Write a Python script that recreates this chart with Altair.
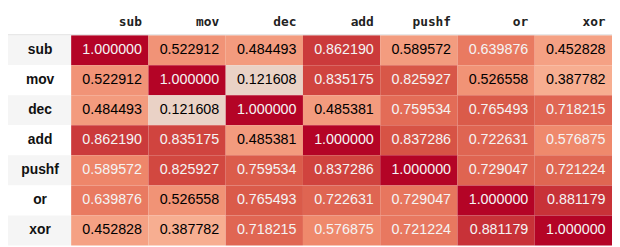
import altair as alt
import pandas as pd

names = ["sub", "mov", "dec", "add", "pushf", "or", "xor"]
row_sub = [1.000000, 0.522912, 0.484493, 0.862190, 0.589572, 0.639876, 0.452828]
row_mov = [0.522912, 1.000000, 0.121608, 0.835175, 0.825927, 0.526558, 0.387782]
row_dec = [0.484493, 0.121608, 1.000000, 0.485381, 0.759534, 0.765493, 0.718215]
row_add = [0.862190, 0.835175, 0.485381, 1.000000, 0.837286, 0.722631, 0.576875]
row_pushf = [0.589572, 0.825927, 0.759534, 0.837286, 1.000000, 0.729047, 0.721224]
row_or = [0.639876, 0.526558, 0.765493, 0.722631, 0.729047, 1.000000, 0.881179]
row_xor = [0.452828, 0.387782, 0.718215, 0.576875, 0.721224, 0.881179, 1.000000]
# low end of each column's colour gradient (column-wise gradient)
col_floor = [-1.0, -1.0, -1.0, -1.0, -0.58, -1.0, -1.0]

matrix = [row_sub, row_mov, row_dec, row_add, row_pushf, row_or, row_xor]

records = []
for i, rname in enumerate(names):
    for j, cname in enumerate(names):
        records.append({"row": rname, "col": cname, "ri": i,
                        "value": matrix[i][j], "floor": col_floor[j]})
df = pd.DataFrame(records)

# ---- layout ----
LABEL_W = 64
HEAD_H = 26
W = 548
H = 213
colw = W / 7

coolwarm_dom = [0.5, 0.6, 0.7, 0.8, 0.9, 1.0]
coolwarm_rng = ["#dddcdc", "#f2cbb7", "#f7ac8e", "#ee8468", "#d65244", "#b40426"]

base = alt.Chart(df).transform_calculate(
    t="(datum.value - datum.floor) / (1 - datum.floor)"
).encode(
    x=alt.X("col:N", sort=names,
            scale=alt.Scale(paddingInner=0, paddingOuter=0),
            axis=alt.Axis(orient="top", title=None, ticks=False, tickSize=0,
                          domain=False, labelAngle=0, labelAlign="right",
                          labelOffset=colw / 2 - 6.5, labelPadding=10,
                          labelBaseline="alphabetic",
                          labelFont="DejaVu Sans Mono", labelFontSize=13,
                          labelFontWeight="bold", labelColor="#222222",
                          labelOverlap=False)),
    y=alt.Y("row:N", sort=names,
            scale=alt.Scale(paddingInner=0, paddingOuter=0),
            axis=alt.Axis(orient="left", title=None, ticks=False, tickSize=0,
                          domain=False, labelAlign="center", labelPadding=LABEL_W / 2,
                          labelBaseline="middle", labelFont="Liberation Sans",
                          labelFontSize=14, labelFontWeight="bold",
                          labelColor="#111111", labelOverlap=False)),
)

stripes = base.transform_filter(alt.datum.col == "sub").mark_rect().encode(
    x=alt.value(-LABEL_W), x2=alt.value(0),
    fill=alt.condition("datum.ri % 2 == 0", alt.value("#f5f5f5"), alt.value("#ffffff")),
)

cells = base.mark_rect(strokeWidth=0).encode(
    fill=alt.Color("t:Q", scale=alt.Scale(domain=coolwarm_dom, range=coolwarm_rng,
                                          interpolate="rgb"), legend=None),
)

texts = base.mark_text(align="right", baseline="middle", dx=colw / 2 - 6.5,
                       font="Liberation Sans", fontSize=14.5).encode(
    text=alt.Text("value:Q", format=".6f"),
    color=alt.condition("datum.t > 0.775", alt.value("#f4f4f4"), alt.value("#000000")),
)

rule = base.transform_filter((alt.datum.col == "sub") & (alt.datum.row == "sub")).mark_rule(
    color="#e2e2e2", strokeWidth=1).encode(
    x=alt.value(-LABEL_W), x2=alt.value(W), y=alt.value(-0.5),
)

chart = alt.layer(stripes, cells, texts, rule).properties(
    width=W, height=H,
    autosize=alt.AutoSizeParams(type="none"),
    padding={"left": LABEL_W, "top": HEAD_H, "right": 0, "bottom": 0},
).configure_view(stroke=None)

chart.save("out.html", embed_options={"renderer": "svg", "actions": False})
